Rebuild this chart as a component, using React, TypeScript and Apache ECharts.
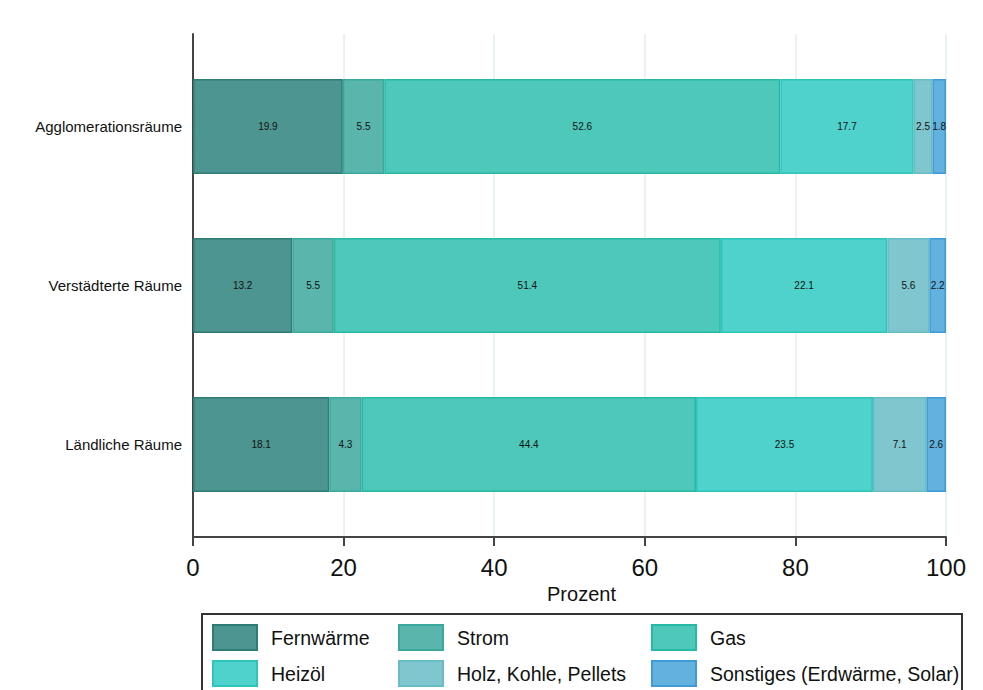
import React, { useEffect, useRef } from 'react';
import * as echarts from 'echarts';

const regions = ['Agglomerationsräume', 'Verstädterte Räume', 'Ländliche Räume'];

const fernwaerme = [19.9, 13.2, 18.1];
const strom = [5.5, 5.5, 4.3];
const gas = [52.6, 51.4, 44.4];
const heizoel = [17.7, 22.1, 23.5];
const holz = [2.5, 5.6, 7.1];
const sonstiges = [1.8, 2.2, 2.6];

const xTicks = { min: 0, max: 100, interval: 20 };

const FONT = "'Liberation Sans', Arial, sans-serif";

const seriesDefs = [
  { name: 'Fernwärme', data: fernwaerme, fill: '#4d9590', border: '#2e7c76' },
  { name: 'Strom', data: strom, fill: '#5ab6ad', border: '#3aa89c' },
  { name: 'Gas', data: gas, fill: '#4dc8b9', border: '#27b9a6' },
  { name: 'Heizöl', data: heizoel, fill: '#4fd2cb', border: '#2cc4bb' },
  { name: 'Holz, Kohle, Pellets', data: holz, fill: '#80c6ce', border: '#68bcc5' },
  { name: 'Sonstiges (Erdwärme, Solar)', data: sonstiges, fill: '#62b1de', border: '#3d9cd8' }
];

const legendCols = [
  { left: 212, names: ['Fernwärme', 'Heizöl'] },
  { left: 398, names: ['Strom', 'Holz, Kohle, Pellets'] },
  { left: 651, names: ['Gas', 'Sonstiges (Erdwärme, Solar)'] }
];

const App: React.FC = () => {
  const chartRef = useRef<HTMLDivElement>(null);

  useEffect(() => {
    const chart = echarts.init(chartRef.current!, null, { renderer: 'svg' });

    const option = {
      animation: false,
      textStyle: { fontFamily: FONT },
      grid: [
        { left: 193, right: 37, top: 34, bottom: 153 },
        { left: 193, right: 37, top: 47, bottom: 166 }
      ],
      xAxis: [
        {
          type: 'value',
          gridIndex: 0,
          ...xTicks,
          name: 'Prozent',
          nameLocation: 'middle',
          nameGap: 37,
          nameTextStyle: { fontSize: 20, color: '#111', fontFamily: FONT, padding: [0, 0, 0, 24] },
          axisLine: { show: true, lineStyle: { color: '#444', width: 2 } },
          axisTick: { show: true, length: 9, lineStyle: { color: '#444', width: 2 } },
          axisLabel: { fontSize: 24, color: '#111', margin: 18, fontFamily: FONT },
          splitLine: { show: true, lineStyle: { color: '#e3eff0', width: 1.5 } }
        },
        {
          type: 'value',
          gridIndex: 1,
          ...xTicks,
          show: false
        }
      ],
      yAxis: [
        {
          type: 'value',
          gridIndex: 0,
          min: 0,
          max: 1,
          axisLine: { show: true, lineStyle: { color: '#444', width: 2 } },
          axisTick: { show: false },
          axisLabel: { show: false },
          splitLine: { show: false }
        },
        {
          type: 'category',
          gridIndex: 1,
          data: regions,
          inverse: true,
          axisLine: { show: false },
          axisTick: { show: false },
          axisLabel: { fontSize: 15, color: '#111', margin: 11, fontFamily: FONT }
        }
      ],
      legend: legendCols.map(col => ({
        data: col.names,
        orient: 'vertical',
        left: col.left,
        top: 624,
        padding: 0,
        itemWidth: 44,
        itemHeight: 25,
        itemGap: 9,
        icon: 'rect',
        selectedMode: false,
        textStyle: { fontSize: 19.5, color: '#111', fontFamily: FONT, padding: [0, 0, 0, 9] }
      })),
      graphic: [
        {
          type: 'rect',
          shape: { x: 202, y: 614, width: 760, height: 120 },
          style: { fill: 'none', stroke: '#333', lineWidth: 2 },
          silent: true
        }
      ],
      series: seriesDefs.map(s => ({
        name: s.name,
        type: 'bar',
        stack: 'total',
        xAxisIndex: 1,
        yAxisIndex: 1,
        barWidth: 95,
        data: s.data,
        itemStyle: { color: s.fill, borderColor: s.border, borderWidth: 1.5 },
        label: {
          show: true,
          position: 'inside',
          fontSize: 10,
          color: '#111',
          fontFamily: FONT,
          formatter: (p: any) => Number(p.value).toFixed(1)
        }
      }))
    };

    chart.setOption(option);

    return () => {
      chart.dispose();
    };
  }, []);

  return (
    <div
      ref={chartRef}
      style={{ position: 'fixed', left: 0, top: 0, width: '983px', height: '690px', background: '#fff' }}
    />
  );
};

export default App;
